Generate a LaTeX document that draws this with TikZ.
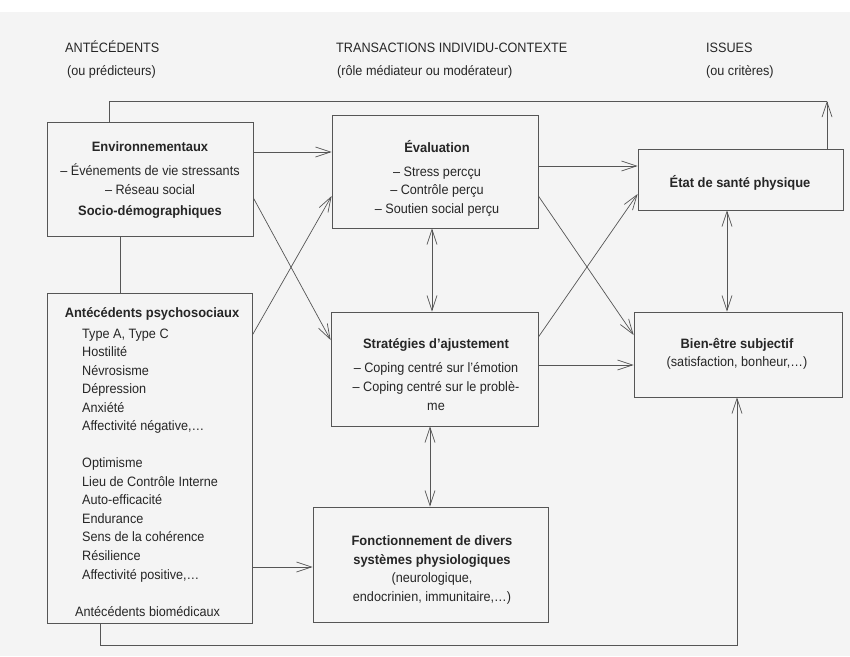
\documentclass[tikz,border=0pt]{standalone}
\usepackage{fontspec}
\setmainfont{Liberation Sans}[FakeStretch=0.93,BoldFeatures={FakeStretch=0.95}]
\usetikzlibrary{arrows.meta}
\definecolor{ink}{HTML}{555555}
\definecolor{txtc}{HTML}{262626}
\definecolor{paper}{HTML}{F4F4F4}
\begin{document}
\begin{tikzpicture}[x=1pt,y=-1pt,
  box/.style={draw=ink,line width=0.8pt,rectangle,inner sep=0pt},
  txt/.style={font=\fontsize{13.6}{18.5}\selectfont,text=txtc,inner sep=0pt,anchor=base},
  ttl/.style={txt,font=\fontsize{13.6}{18.5}\selectfont\bfseries},
  hdr/.style={font=\fontsize{13.6}{15}\selectfont,text=txtc,inner sep=0pt,anchor=base west},
  conn/.style={draw=ink,line width=0.7pt},
  arr/.style={conn,-{Straight Barb[length=15pt,width=10pt]}},
  dbl/.style={conn,{Straight Barb[length=15pt,width=10pt]}-{Straight Barb[length=15pt,width=10pt]}}]
\useasboundingbox (0,0) rectangle (850,656);
\fill[paper] (0,12) rectangle (850,656);

% headers
\node[hdr] (h1) at (65,52) {ANTÉCÉDENTS};
\node[hdr] (h1s) at (67,75) {(ou prédicteurs)};
\node[hdr] (h2) at (336,52) {TRANSACTIONS INDIVIDU-CONTEXTE};
\node[hdr] (h2s) at (337,75) {(rôle médiateur ou modérateur)};
\node[hdr] (h3) at (706,52) {ISSUES};
\node[hdr] (h3s) at (706,75) {(ou critères)};

% boxes
\node[box,minimum width=206pt,minimum height=114pt] (env) at (150,179) {};
\node[box,minimum width=205pt,minimum height=330pt] (psy) at (149.5,458) {};
\node[box,minimum width=206pt,minimum height=113pt] (eval) at (435,171.5) {};
\node[box,minimum width=207pt,minimum height=114pt] (strat) at (434.5,369) {};
\node[box,minimum width=235pt,minimum height=115pt] (fonct) at (430.5,564.5) {};
\node[box,minimum width=205pt,minimum height=61pt] (etat) at (740.5,179.5) {};
\node[box,minimum width=208pt,minimum height=85pt] (bien) at (738,354.5) {};

% environnementaux
\node[ttl] (env1) at (150,151) {Environnementaux};
\node[txt] (env2) at (150,175) {– Événements de vie stressants};
\node[txt] (env3) at (150,194) {– Réseau social};
\node[ttl] (env4) at (150,215) {Socio-démographiques};

% psychosociaux
\node[ttl] (psy0) at (152,317) {Antécédents psychosociaux};
\foreach \t [count=\i from 0] in {{Type A, Type C},Hostilité,Névrosisme,Dépression,Anxiété,{Affectivité négative,…},{},Optimisme,Lieu de Contrôle Interne,Auto-efficacité,Endurance,Sens de la cohérence,Résilience,{Affectivité positive,…}}
  \node[txt,anchor=base west] (psyl\i) at (82,338+18.54*\i) {\t};
\node[txt,anchor=base west] (psybio) at (75,616) {Antécédents biomédicaux};

% evaluation
\node[ttl] (ev1) at (437,152) {Évaluation};
\node[txt] (ev2) at (437,176) {– Stress percçu};
\node[txt] (ev3) at (437,194) {– Contrôle perçu};
\node[txt] (ev4) at (437,213) {– Soutien social perçu};

% strategies
\node[ttl] (st1) at (436,348) {Stratégies d’ajustement};
\node[txt] (st2) at (436,372) {– Coping centré sur l’émotion};
\node[txt] (st3) at (436,391) {– Coping centré sur le problè-};
\node[txt] (st4) at (436,410) {me};

% fonctionnement
\node[ttl] (fo1) at (432,545) {Fonctionnement de divers};
\node[ttl] (fo2) at (432,564) {systèmes physiologiques};
\node[txt] (fo3) at (432,582) {(neurologique,};
\node[txt] (fo4) at (432,601) {endocrinien, immunitaire,…)};

% etat / bien-etre
\node[ttl] (et1) at (740,187) {État de santé physique};
\node[ttl] (be1) at (737,348) {Bien-être subjectif};
\node[txt] (be2) at (737,366) {(satisfaction, bonheur,…)};

% connectors
\draw[conn] (env.south -| 120,0) -- (psy.north -| 120,0);
\draw[arr] (env.east |- 0,152) -- (eval.west |- 0,152);
\draw[arr] (env.east |- 0,198) -- (strat.west |- 0,340);
\draw[arr] (psy.east |- 0,335) -- (eval.west |- 0,196);
\draw[arr] (eval.east |- 0,166) -- (etat.west |- 0,166);
\draw[arr] (eval.east |- 0,196) -- (bien.west |- 0,335);
\draw[arr] (strat.east |- 0,337) -- (etat.west |- 0,194);
\draw[arr] (strat.east |- 0,365) -- (bien.west |- 0,365);
\draw[dbl] (eval.south -| 432,0) -- (strat.north -| 432,0);
\draw[dbl] (strat.south -| 430,0) -- (fonct.north -| 430,0);
\draw[dbl] (etat.south -| 727,0) -- (bien.north -| 727,0);
\draw[arr] (psy.east |- 0,567) -- (fonct.west |- 0,567);

\coordinate (tl) at (109,101);
\coordinate (tr) at (827,101);
\draw[conn] (env.north -| tl) -- (tl) -- (tr);
\draw[arr] (etat.north -| tr) -- (tr);

\coordinate (bl) at (100,645);
\coordinate (br) at (737,645);
\draw[arr] (psy.south -| bl) -- (bl) -- (br) -- (bien.south -| br);
\end{tikzpicture}
\end{document}
